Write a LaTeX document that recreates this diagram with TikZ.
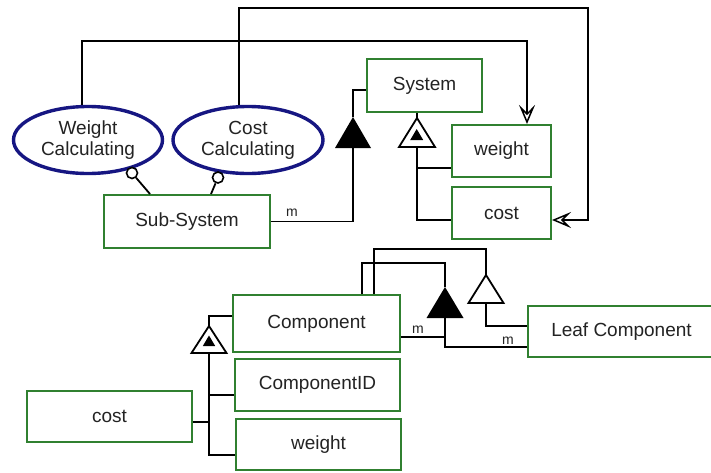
\documentclass[tikz,border=0pt]{standalone}
\usepackage{fontspec}
\setmainfont{Liberation Sans}
\usetikzlibrary{arrows.meta,shapes.geometric}
\definecolor{boxgreen}{RGB}{48,128,48}
\definecolor{ovalblue}{RGB}{22,22,130}
\definecolor{inkgray}{RGB}{35,35,35}
\tikzset{
  classbox/.style={draw=boxgreen, line width=2pt, fill=white, rectangle,
    inner sep=0pt, text=inkgray, font=\fontsize{19}{21}\selectfont},
  usecase/.style={draw=ovalblue, line width=3.4pt, fill=white, ellipse,
    inner sep=0pt, text=inkgray, align=center, font=\fontsize{19}{21}\selectfont},
  link/.style={draw=black, line width=1.8pt},
  openhead/.style={link, -{Stealth[open, length=19pt, width=16pt, inset=8pt, line width=1.5pt]}},
  lolli/.style={circle, draw=black, line width=1.6pt, fill=white, minimum size=11pt, inner sep=0pt},
  mult/.style={font=\fontsize{14}{14}\selectfont, text=inkgray, inner sep=1pt},
  hollowtri/.style={draw=black, line width=1.8pt, fill=white, line join=miter},
  solidtri/.style={fill=black},
}
\begin{document}
\begin{tikzpicture}[x=1pt, y=-1pt]
\useasboundingbox (0,0) rectangle (711,472);
\clip (0,0) rectangle (711,472);
\fill[white] (0,0) rectangle (711,472);

% ---------- upper group ----------
\node[usecase, minimum width=149pt, minimum height=67pt] (wcalc) at (88,140) {Weight\\Calculating};
\node[usecase, minimum width=150pt, minimum height=67pt] (ccalc) at (248,140) {Cost\\Calculating};
\node[classbox, minimum width=166pt, minimum height=53pt] (sub) at (187,221.5) {Sub-System};
\node[classbox, minimum width=115pt, minimum height=53pt] (sys) at (424.5,85.5) {System};
\node[classbox, minimum width=99pt, minimum height=52pt] (wt) at (501.5,151) {weight};
\node[classbox, minimum width=99pt, minimum height=52pt] (ct) at (501.5,213) {cost};

% calculation links into the attributes
\draw[openhead] ([xshift=-6pt]wcalc.north) -- ++(0,-64) -| ([xshift=25.5pt]wt.north);
\draw[openhead] ([xshift=-9pt]ccalc.north) -- ++(0,-97) -- ++(349,0) |- ([yshift=-7pt]ct.east);

% provided interfaces (lollipops)
\node[lolli] (lol1) at (132,173) {};
\node[lolli] (lol2) at (218,177.5) {};
\draw[link] ([xshift=-37pt]sub.north) -- (lol1);
\draw[link] ([xshift=24pt]sub.north) -- (lol2);

% aggregation Sub-System -> System
\draw[link] (sub.east) -| (353,148);
\draw[link] (353,117) |- ([yshift=-4.5pt]sys.west);
\fill[solidtri] (353,117) -- (335,148) -- (371,148) -- cycle;
\node[mult, anchor=south] (m1) at (292,218) {m};

% System attributes
\draw[link] ([xshift=-7.5pt]sys.south) -- (417,118);
\draw[hollowtri] (417,118) -- (399,147) -- (435,147) -- cycle;
\fill[solidtri] (416.7,129) -- (410.2,140) -- (423.2,140) -- cycle;
\draw[link] (417,147) |- ([yshift=-7pt]ct.west);
\draw[link] (417,168) -- ([yshift=-17pt]wt.west);

% ---------- lower group ----------
\node[classbox, minimum width=167pt, minimum height=57pt] (comp) at (316.5,323.5) {Component};
\node[classbox, minimum width=165pt, minimum height=52pt] (cid) at (317.5,385) {ComponentID};
\node[classbox, minimum width=165pt, minimum height=51pt] (wt2) at (318.5,444.5) {weight};
\node[classbox, minimum width=165pt, minimum height=51pt] (ct2) at (109.5,416.5) {cost};
\node[classbox, minimum width=187pt, minimum height=51pt] (leaf) at (621.5,331.5) {Leaf Component};

% Component attributes
\draw[link] ([yshift=7.5pt]comp.west) -| (209,326);
\draw[hollowtri] (209,326) -- (191.5,353) -- (226.5,353) -- cycle;
\fill[solidtri] (209,335.5) -- (202.8,346) -- (215.2,346) -- cycle;
\draw[link] (209,353) |- ([yshift=-10.5pt]wt2.west);
\draw[link] (209,395) -- ([yshift=-10pt]cid.west);
\draw[link] ([yshift=-5.5pt]ct2.east) -- (209,422);

% aggregation of Components
\draw[link] ([xshift=45.5pt]comp.north) |- (445,263) -- (445,287);
\fill[solidtri] (445,287) -- (426.5,318) -- (463.5,318) -- cycle;
\draw[link] (445,318) |- ([yshift=-15.5pt]leaf.west);
\draw[link] ([yshift=-13.5pt]comp.east) -- (445,337);
\node[mult, anchor=south] (m2) at (418,335) {m};
\node[mult, anchor=south] (m3) at (508,346) {m};

% Leaf Component specialises Component
\draw[link] ([xshift=57.5pt]comp.north) |- (486,249) -- (486,275);
\draw[hollowtri] (486,275) -- (468.5,303) -- (503.5,303) -- cycle;
\draw[link] (486,303) |- ([yshift=5.5pt]leaf.west);
\end{tikzpicture}
\end{document}
